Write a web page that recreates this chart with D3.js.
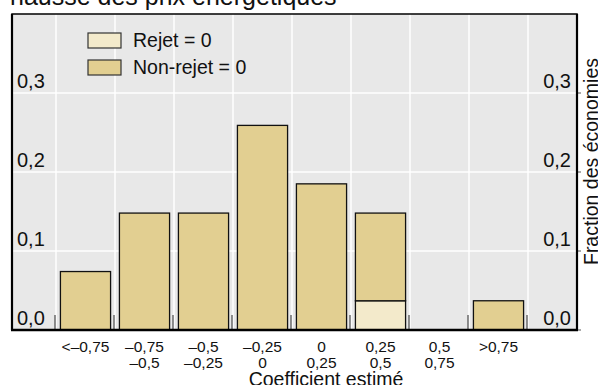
<!DOCTYPE html>
<html><head><meta charset="utf-8">
<script src="https://cdn.jsdelivr.net/npm/d3@7"></script>
<style>
html,body{margin:0;padding:0;background:#fff;}
svg{display:block;font-family:"Liberation Sans",Arial,Helvetica,sans-serif;}
</style></head>
<body>
<svg id="chart" width="598" height="385"></svg>
<script>
const categories = ["<–0,75|", "–0,75|–0,5", "–0,5|–0,25", "–0,25|0", "0|0,25", "0,25|0,5", "0,5|0,75", ">0,75|"];
const rejet    = [0, 0, 0, 0, 0, 0.037, 0, 0];
const nonRejet = [0.074, 0.148, 0.148, 0.259, 0.185, 0.111, 0, 0.037];
const yTicks = [0, 0.1, 0.2, 0.3];
const yTickLabels = ["0,0", "0,1", "0,2", "0,3"];
const seriesNames = ["Rejet = 0", "Non-rejet = 0"];
const title = "hausse des prix énergétiques";
const xTitle = "Coefficient estimé";
const yTitle = "Fraction des économies";

const colors = {rejet: "#f3eacb", nonRejet: "#e2cf91", bg: "#e8e8e8"};
const svg = d3.select("#chart");
const frame = {l: 12, r: 577, t: 14, b: 330};

const x = d3.scaleBand().domain(categories).range([56, 528]).paddingInner(0.15).paddingOuter(0.075);
const y = d3.scaleLinear().domain([0, 0.4]).range([frame.b, frame.t]);

// title
svg.append("text").attr("x", 10).attr("y", 5).attr("font-size", 25).attr("fill", "#111").text(title);

// background
svg.append("rect").attr("x", frame.l).attr("y", frame.t).attr("width", frame.r - frame.l).attr("height", frame.b - frame.t).attr("fill", colors.bg);

// gridlines
const g = svg.append("g");
g.selectAll(".hg").data(yTicks.filter(d => d > 0)).enter().append("line")
  .attr("x1", frame.l).attr("x2", frame.r).attr("y1", d => y(d)).attr("y2", d => y(d))
  .attr("stroke", "#fff").attr("stroke-width", 1.5);
const edges = categories.map(c => x(c) - x.step() * x.paddingInner() / 2).concat([x(categories[categories.length - 1]) + x.bandwidth() + x.step() * x.paddingInner() / 2]);
g.selectAll(".vg").data(edges).enter().append("line")
  .attr("x1", d => d).attr("x2", d => d).attr("y1", frame.t).attr("y2", frame.b)
  .attr("stroke", "#fff").attr("stroke-width", 1.5);
// bottom small ticks
g.selectAll(".bt").data(edges).enter().append("line")
  .attr("x1", d => d - 1).attr("x2", d => d - 1).attr("y1", frame.b - 15).attr("y2", frame.b)
  .attr("stroke", "#555").attr("stroke-width", 1.3);

// bars
const barG = svg.append("g");
categories.forEach((c, i) => {
  if (rejet[i] > 0) {
    barG.append("rect").attr("x", x(c)).attr("width", x.bandwidth())
      .attr("y", y(rejet[i])).attr("height", y(0) - y(rejet[i]))
      .attr("fill", colors.rejet).attr("stroke", "#111").attr("stroke-width", 1.3);
  }
  if (nonRejet[i] > 0) {
    const top = rejet[i] + nonRejet[i];
    barG.append("rect").attr("x", x(c)).attr("width", x.bandwidth())
      .attr("y", y(top)).attr("height", y(rejet[i]) - y(top))
      .attr("fill", colors.nonRejet).attr("stroke", "#111").attr("stroke-width", 1.3);
  }
});

// y tick labels
const tl = svg.append("g").attr("font-size", 20).attr("fill", "#111");
yTicks.forEach((t, i) => {
  tl.append("text").attr("x", 17).attr("y", y(t) - 5).text(yTickLabels[i]);
  tl.append("text").attr("x", 571).attr("y", y(t) - 5).attr("text-anchor", "end").text(yTickLabels[i]);
});
// right outward ticks
svg.selectAll(".rt").data(yTicks).enter().append("line")
  .attr("x1", frame.r).attr("x2", frame.r + 4).attr("y1", d => y(d)).attr("y2", d => y(d))
  .attr("stroke", "#555").attr("stroke-width", 1);

// frame
svg.append("rect").attr("x", frame.l).attr("y", frame.t).attr("width", frame.r - frame.l).attr("height", frame.b - frame.t)
  .attr("fill", "none").attr("stroke", "#000").attr("stroke-width", 1.5);
svg.append("line").attr("x1", frame.l - 1).attr("x2", frame.r + 1).attr("y1", frame.b).attr("y2", frame.b).attr("stroke", "#000").attr("stroke-width", 2.5);
svg.append("line").attr("x1", frame.l).attr("x2", frame.l).attr("y1", frame.t).attr("y2", frame.b).attr("stroke", "#000").attr("stroke-width", 2.2);
svg.append("line").attr("x1", frame.r).attr("x2", frame.r).attr("y1", frame.t).attr("y2", frame.b).attr("stroke", "#000").attr("stroke-width", 2.2);

// x labels
const xl = svg.append("g").attr("font-size", 15.5).attr("fill", "#111").attr("text-anchor", "middle");
categories.forEach(c => {
  const parts = c.split("|");
  const cx = x(c) + x.bandwidth() / 2;
  xl.append("text").attr("x", cx).attr("y", 352).text(parts[0]);
  if (parts[1]) xl.append("text").attr("x", cx).attr("y", 368).text(parts[1]);
});

// axis titles
svg.append("text").attr("x", 326).attr("y", 386).attr("text-anchor", "middle").attr("font-size", 19.5).attr("fill", "#111").text(xTitle);
svg.append("text").attr("transform", "translate(598,58) rotate(-90)").attr("text-anchor", "end").attr("font-size", 19.5).attr("fill", "#111").text(yTitle);

// legend
const lg = svg.append("g");
const legendColors = [colors.rejet, colors.nonRejet];
seriesNames.forEach((n, i) => {
  const yy = 33 + i * 27;
  lg.append("rect").attr("x", 88).attr("y", yy).attr("width", 33).attr("height", 15)
    .attr("fill", legendColors[i]).attr("stroke", "#333").attr("stroke-width", 1.2);
  lg.append("text").attr("x", 133).attr("y", yy + 14).attr("font-size", 19.5).attr("fill", "#111").text(n);
});
</script>
</body></html>
